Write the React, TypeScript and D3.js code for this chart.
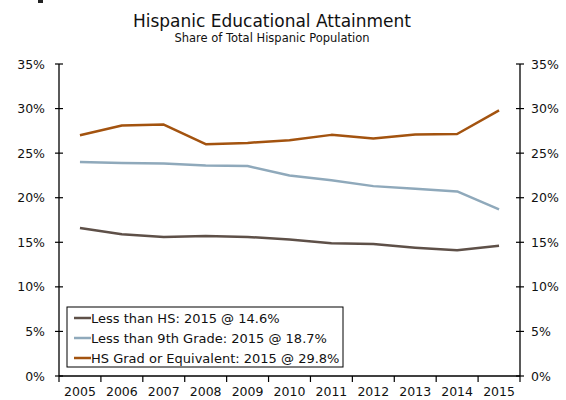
import React from "react";
import * as d3 from "d3";

const years = ["2005","2006","2007","2008","2009","2010","2011","2012","2013","2014","2015"];
const lessThanHS = [16.6, 15.9, 15.6, 15.7, 15.6, 15.3, 14.9, 14.8, 14.4, 14.1, 14.6];
const lessThan9th = [24.0, 23.9, 23.85, 23.6, 23.55, 22.5, 21.95, 21.3, 21.0, 20.7, 18.7];
const hsGrad = [27.0, 28.1, 28.2, 26.0, 26.15, 26.45, 27.05, 26.65, 27.1, 27.15, 29.8];
const yTicks = [0, 5, 10, 15, 20, 25, 30, 35];
const seriesNames = [
  "Less than HS: 2015 @ 14.6%",
  "Less than 9th Grade: 2015 @ 18.7%",
  "HS Grad or Equivalent: 2015 @ 29.8%",
];
const colors = ["#5e5048", "#8fa9bb", "#a3530f"];

export default function App() {
  const W = 566, H = 400;
  const left = 59, right = 520, top = 64, bottom = 376;
  const x = d3.scaleBand<string>().domain(years).range([left, right]);
  const y = d3.scaleLinear().domain([0, 35]).range([bottom, top]);
  const line = d3
    .line<number>()
    .x((_, i) => (x(years[i]) as number) + x.bandwidth() / 2)
    .y((d) => y(d));
  const series = [lessThanHS, lessThan9th, hsGrad];
  const font = "Verdana, 'DejaVu Sans', sans-serif";
  const boundaries = years.map((yr) => x(yr) as number).concat([right]);
  return (
    <svg width={W} height={H} style={{ position: "absolute", left: 0, top: 0, fontFamily: font }}>
      <rect x={0} y={0} width={W} height={H} fill="#fff" />
      <rect x={38} y={0} width={5} height={3} fill="#222" />
      <text x={272} y={27} textAnchor="middle" fontSize={17} fill="#111">Hispanic Educational Attainment</text>
      <text x={272} y={42} textAnchor="middle" fontSize={11.5} fill="#111">Share of Total Hispanic Population</text>
      {/* axes */}
      <line x1={left} x2={left} y1={top} y2={bottom} stroke="#000" strokeWidth={1.3} />
      <line x1={right} x2={right} y1={top} y2={bottom} stroke="#000" strokeWidth={1.3} />
      <line x1={left} x2={right} y1={bottom} y2={bottom} stroke="#000" strokeWidth={1.3} />
      {yTicks.map((t) => (
        <g key={t}>
          <line x1={left - 4} x2={left + 4} y1={y(t)} y2={y(t)} stroke="#000" strokeWidth={1.2} />
          <line x1={right - 4} x2={right + 4} y1={y(t)} y2={y(t)} stroke="#000" strokeWidth={1.2} />
          <text x={45} y={y(t) + 4.5} textAnchor="end" fontSize={12.5} fill="#111">{t}%</text>
          <text x={531} y={y(t) + 4.5} textAnchor="start" fontSize={12.5} fill="#111">{t}%</text>
        </g>
      ))}
      {boundaries.map((b, i) => (
        <line key={i} x1={b} x2={b} y1={bottom} y2={bottom + 6} stroke="#000" strokeWidth={1.2} />
      ))}
      {years.map((yr) => (
        <text key={yr} x={(x(yr) as number) + x.bandwidth() / 2} y={396} textAnchor="middle" fontSize={12.5} fill="#111">{yr}</text>
      ))}
      {series.map((s, i) => (
        <path key={i} d={line(s) || ""} fill="none" stroke={colors[i]} strokeWidth={2.5} strokeLinejoin="round" />
      ))}
      {/* legend */}
      <rect x={67} y={307} width={276} height={60} fill="#fff" stroke="#000" strokeWidth={1} />
      {seriesNames.map((n, i) => (
        <g key={n}>
          <line x1={74} x2={91} y1={318 + i * 20} y2={318 + i * 20} stroke={colors[i]} strokeWidth={2.5} />
          <text x={91} y={322.5 + i * 20} fontSize={13} fill="#111">{n}</text>
        </g>
      ))}
    </svg>
  );
}
